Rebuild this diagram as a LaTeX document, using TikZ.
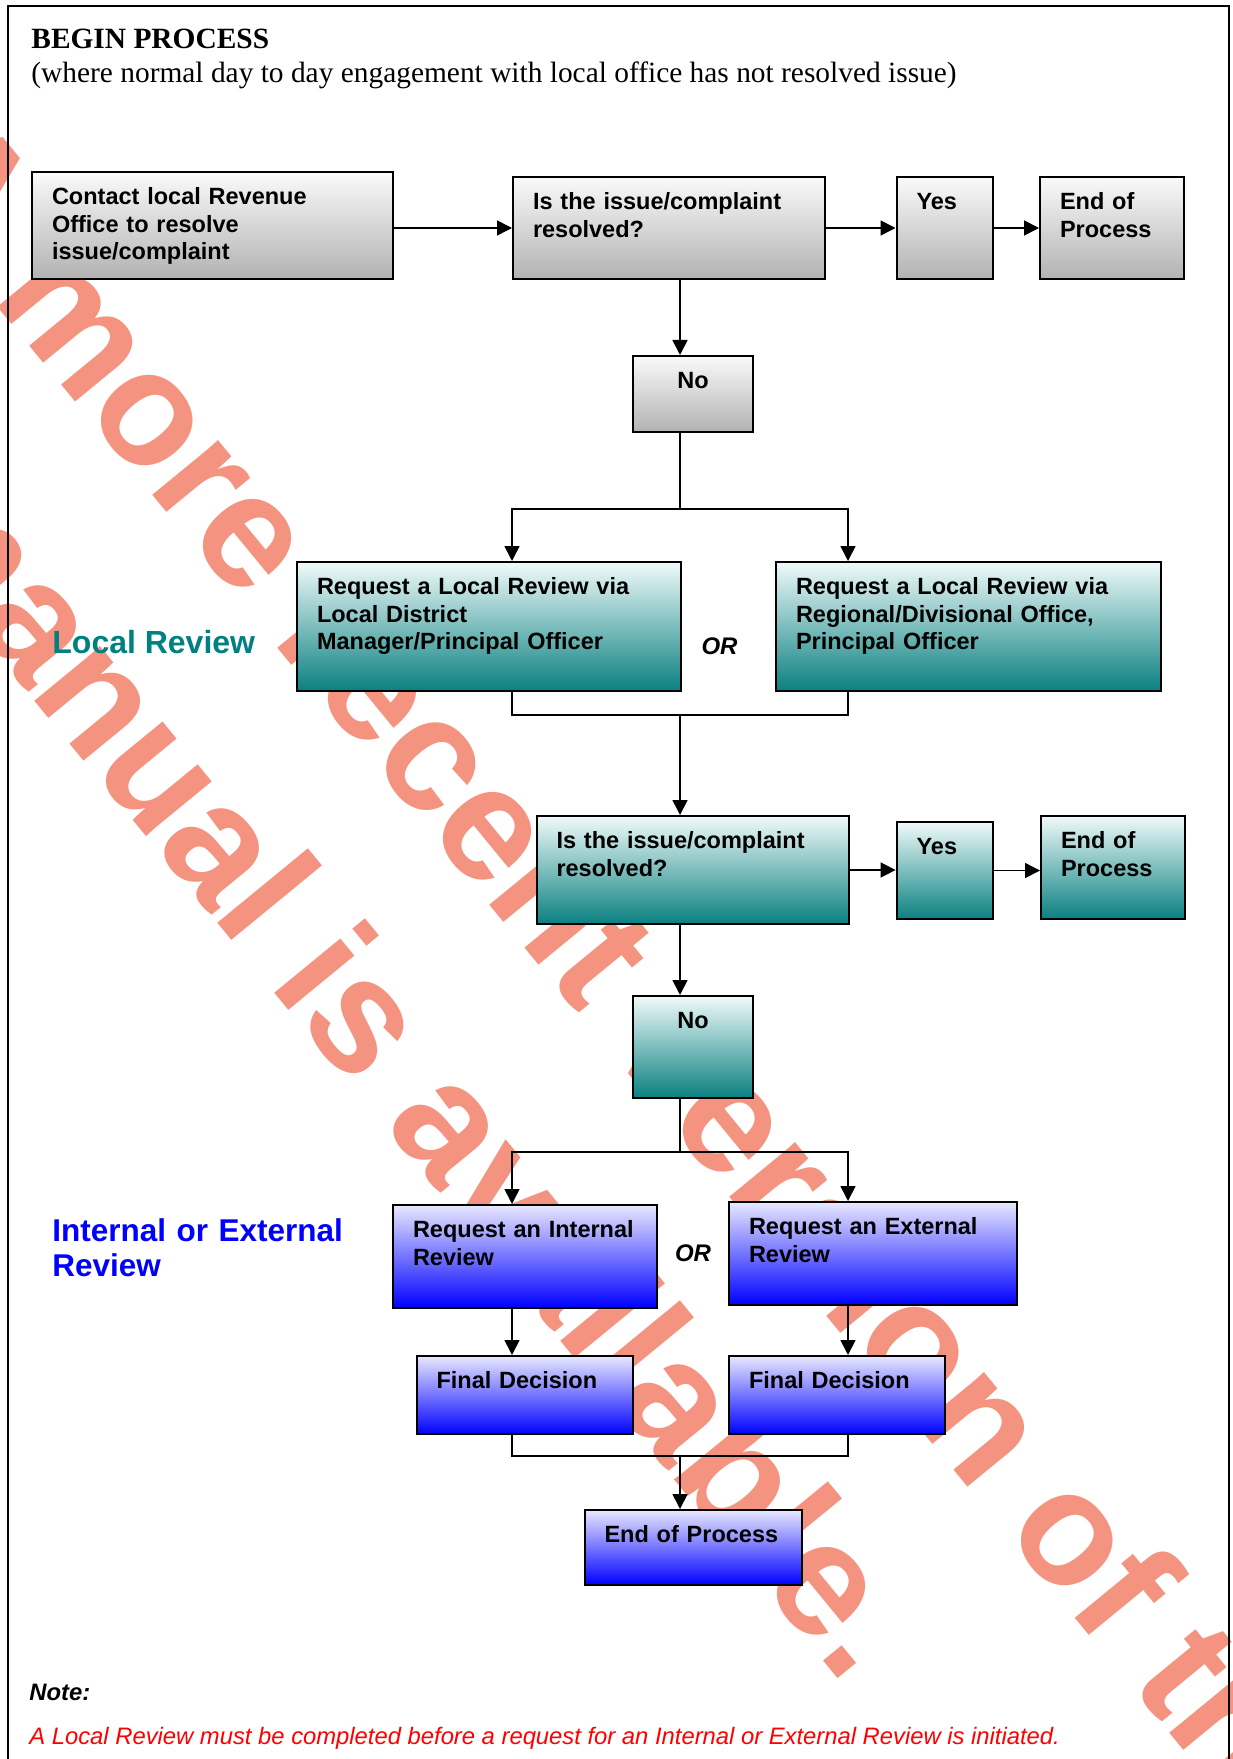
\documentclass[tikz,border=0pt]{standalone}
\usepackage{fontspec}
\setmainfont{Liberation Sans}
\newfontfamily\titlefont{Liberation Serif}
\usetikzlibrary{arrows.meta}
\hyphenpenalty=10000
\exhyphenpenalty=10000

\definecolor{salmon}{RGB}{244,148,128}
\definecolor{labelteal}{RGB}{0,128,128}

\tikzset{
  pbox/.style 2 args={draw=black, line width=1pt, anchor=north west, align=left,
    font=\bfseries\fontsize{11.75}{13.75}\selectfont,
    inner xsep=10pt, inner ysep=0pt,
    text width=#1, text height=16.4pt, text depth=#2},
  greybox/.style={top color={rgb,255:red,250;green,250;blue,250}, bottom color={rgb,255:red,178;green,178;blue,178}},
  tealbox/.style={top color={rgb,255:red,240;green,250;blue,250}, bottom color={rgb,255:red,10;green,128;blue,128}},
  bluebox/.style={top color={rgb,255:red,232;green,232;blue,255}, bottom color={rgb,255:red,0;green,0;blue,255}},
  link/.style={line width=0.8pt},
  arr/.style={line width=0.8pt, -{Triangle[length=7.5pt,width=7.5pt]}},
  ortext/.style={inner sep=0pt, font=\bfseries\itshape\fontsize{12}{14}\selectfont},
  wmark/.style={anchor=base west, rotate=-50.6, inner sep=0pt, text=salmon,
    font=\bfseries\fontsize{81}{97}\selectfont}
}

\begin{document}
\begin{tikzpicture}[x=0.5pt, y=-0.5pt]
	\useasboundingbox (0,0) rectangle (1232,1759);
	\begin{scope}
		\clip (0,0) rectangle (1232,1759);
		\node[wmark] (wm1) at (-112,173) {A more recent version of this};
		\node[wmark] (wm2) at (-121,511) {manual is available.};
	\end{scope}
	\draw[line width=1pt] (8,1762) -- (8,6) -- (1229,6) -- (1229,1762);

	\node[anchor=base west, inner sep=0pt, font=\titlefont\bfseries\fontsize{14.7}{17}\selectfont] (title) at (31,49) {BEGIN PROCESS};
	\node[anchor=base west, inner sep=0pt, font=\titlefont\fontsize{14.7}{17}\selectfont] (subtitle) at (31,83) {(where normal day to day engagement with local office has not resolved issue)};

	\node[pbox={160.5pt}{37.1pt}, greybox] (contact) at (31,171) {Contact local Revenue\\Office to resolve\\issue/complaint};
	\node[pbox={136pt}{34.6pt}, greybox] (ask1) at (512,176) {Is the issue/complaint\\resolved?};
	\node[pbox={28pt}{34.6pt}, greybox] (yes1) at (895.5,176) {Yes};
	\node[pbox={52pt}{34.6pt}, greybox] (end1) at (1039,176) {End of\\Process};
	\node[pbox={40pt}{21.6pt}, greybox, align=center] (no1) at (632,355) {No};

	\node[anchor=base west, inner sep=0pt, text=labelteal, font=\bfseries\fontsize{16}{19}\selectfont] (locallabel) at (52,653) {Local Review};
	\node[pbox={172pt}{48.1pt}, tealbox] (locL) at (296,561) {Request a Local Review via\\Local District\\Manager/Principal Officer};
	\node[ortext] (or1) at (719.5,646.5) {OR};
	\node[pbox={172.5pt}{48.1pt}, tealbox] (locR) at (775,561) {Request a Local Review via\\Regional/Divisional Office,\\Principal Officer};
	\node[pbox={136pt}{37.6pt}, tealbox] (ask2) at (535.5,815) {Is the issue/complaint\\resolved?};
	\node[pbox={28pt}{32.1pt}, tealbox] (yes2) at (895.6,821) {Yes};
	\node[pbox={52pt}{35.1pt}, tealbox] (end2) at (1040,815) {End of\\Process};
	\node[pbox={40pt}{34.6pt}, tealbox, align=center] (no2) at (632,995) {No};

	\node[anchor=base west, inner sep=0pt, text width=170pt, align=left, text=blue, font=\bfseries\fontsize{15.75}{17.85}\selectfont] (extlabel) at (52,1241) {Internal or External\\Review};
	\node[pbox={112pt}{35.1pt}, bluebox] (intrev) at (392,1204) {Request an Internal\\Review};
	\node[ortext] (or2) at (693,1253.5) {OR};
	\node[pbox={124pt}{35.1pt}, bluebox] (extrev) at (728,1201) {Request an External\\Review};
	\node[pbox={88pt}{22.6pt}, bluebox] (finL) at (415.5,1355) {Final Decision};
	\node[pbox={88pt}{22.6pt}, bluebox] (finR) at (728,1355) {Final Decision};
	\node[pbox={88.5pt}{21.1pt}, bluebox] (end3) at (583.5,1509) {End of Process};

	\node[anchor=base west, inner sep=0pt, font=\bfseries\itshape\fontsize{11.9}{14}\selectfont] (notehead) at (29,1700) {Note:};
	\node[anchor=base west, inner sep=0pt, text=red, font=\itshape\fontsize{11.9}{14}\selectfont] (notetext) at (29,1744) {A Local Review must be completed before a request for an Internal or External Review is initiated.};

	\coordinate (bl) at (512,0);
	\coordinate (br) at (848,0);
	\coordinate (tr) at (680,0);
	\coordinate (s1) at (680,509);
	\coordinate (m1) at (680,715);
	\coordinate (s2) at (680,1152);
	\coordinate (m2) at (680,1456);

	\draw[arr] (contact.east |- ask1.west) -- (ask1.west);
	\draw[arr] (ask1.east) -- (yes1.west);
	\draw[arr] (yes1.east) -- (end1.west);
	\draw[arr] (ask1.south -| tr) -- (no1.north -| tr);
	\draw[link] (no1.south -| tr) -- (s1);
	\draw[arr] (s1) -| (locL.north -| bl);
	\draw[arr] (s1) -| (locR.north -| br);
	\draw[link] (locL.south -| bl) |- (m1) -| (locR.south -| br);
	\draw[arr] (m1) -- (ask2.north -| tr);
	\draw[arr] (ask2.east) -- (yes2.west |- ask2.east);
	\draw[arr] (yes2.east) -- (end2.west |- yes2.east);
	\draw[arr] (ask2.south -| tr) -- (no2.north -| tr);
	\draw[link] (no2.south -| tr) -- (s2);
	\draw[arr] (s2) -| (intrev.north -| bl);
	\draw[arr] (s2) -| (extrev.north -| br);
	\draw[arr] (intrev.south -| bl) -- (finL.north -| bl);
	\draw[arr] (extrev.south -| br) -- (finR.north -| br);
	\draw[link] (finL.south -| bl) |- (m2) -| (finR.south -| br);
	\draw[arr] (m2) -- (end3.north -| tr);
\end{tikzpicture}
\end{document}
